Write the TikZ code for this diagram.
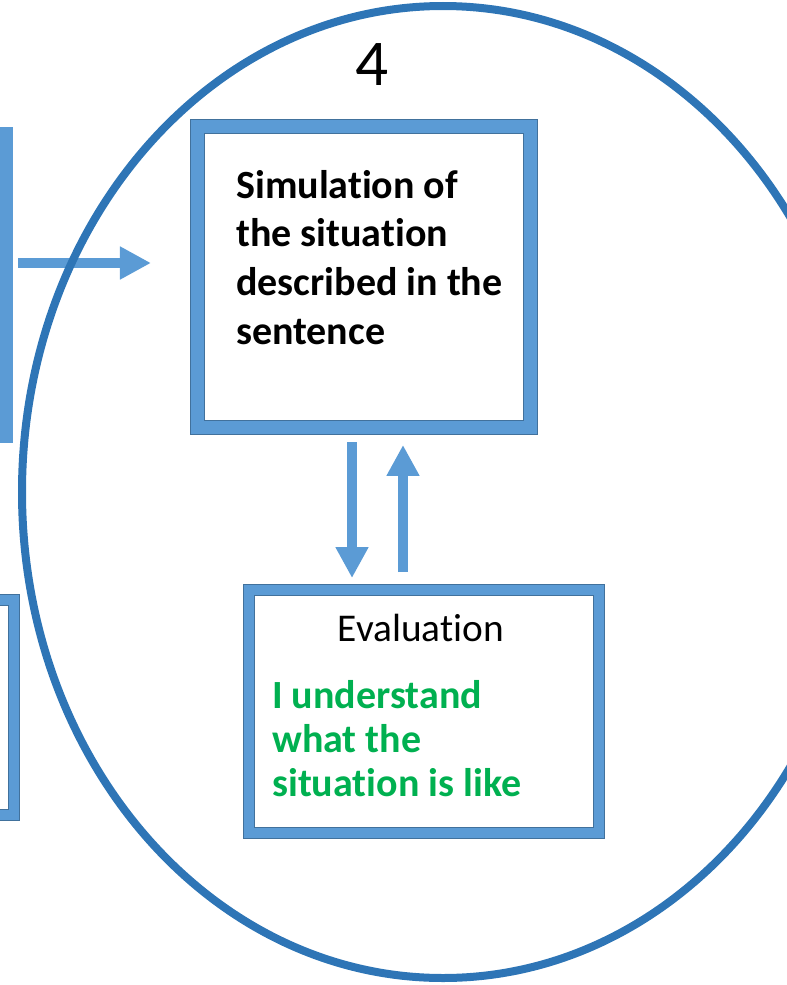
\documentclass[tikz,border=0pt]{standalone}
\usepackage{fontspec}
\setmainfont{Carlito}[Ligatures=NoCommon]
\usepackage{tikz}
\usetikzlibrary{arrows.meta,shapes.geometric}
\definecolor{boxblue}{HTML}{5B9BD5}
\definecolor{edgeblue}{HTML}{41719C}
\definecolor{ringblue}{HTML}{2E75B6}
\definecolor{okgreen}{HTML}{00B050}

\begin{document}
\begin{tikzpicture}[x=0.75pt,y=-0.75pt,
  frame/.style={rectangle,draw=edgeblue,line width=0.75pt,double=boxblue,double distance=#1,inner sep=0pt,outer sep=0pt},
  frame/.default=7.5pt,
  fat/.style={draw=boxblue,line width=8pt,-{Triangle[width=23.25pt,length=23.25pt]}},
  boldtxt/.style={font=\fontsize{30}{#1}\selectfont\bfseries,align=left,inner sep=0pt,anchor=base west},
  boldtxt/.default=36.4pt]
\useasboundingbox (0,0) rectangle (787,985);

% the stage before, cut off at the left
\node [fill=boxblue,inner sep=0pt,minimum width=9.75pt,minimum height=237pt] (prevbar) at (6.5,285) {};
\node [frame,minimum width=100.5pt,minimum height=161.6pt] (prevbox) at (-53,707.25) {};

% stage 4 (text nodes sit on the baseline of their last line)
\node [frame=9.75pt,minimum width=249.75pt,minimum height=225.75pt] (sim) at (364,277) {};
\node [boldtxt] (simtext) at (236,344) {Simulation of\\the situation\\described in the\\sentence};

\node [frame,minimum width=262.5pt,minimum height=182.25pt] (eval) at (424,711) {};
\node [font=\fontsize{29.5}{36}\selectfont,inner sep=0pt,anchor=base] (evaltitle) at (421,641) {Evaluation};
\node [boldtxt=33pt,text=okgreen] (evaltext) at (272,796) {I understand\\what the\\situation is like};

\draw [fat,shorten <=3.75pt,shorten >=34.9pt] ([yshift=16.5pt]prevbar.east) -- ([yshift=10.5pt]sim.west);
\draw [fat,shorten <=10.9pt,shorten >=8.6pt] ([xshift=-9pt]sim.south) -- ([xshift=-54pt]eval.north);
\draw [fat,shorten <=13.1pt,shorten >=13.1pt] ([xshift=-15.75pt]eval.north) -- ([xshift=29.25pt]sim.south);

\node [ellipse,draw=ringblue,line width=6pt,inner sep=0pt,minimum width=631.5pt,minimum height=729pt] (stage) at (443,492) {};
\node [font=\fontsize{49}{58}\selectfont,inner sep=0pt,anchor=base] (num) at (372,85) {4};
\end{tikzpicture}
\end{document}
